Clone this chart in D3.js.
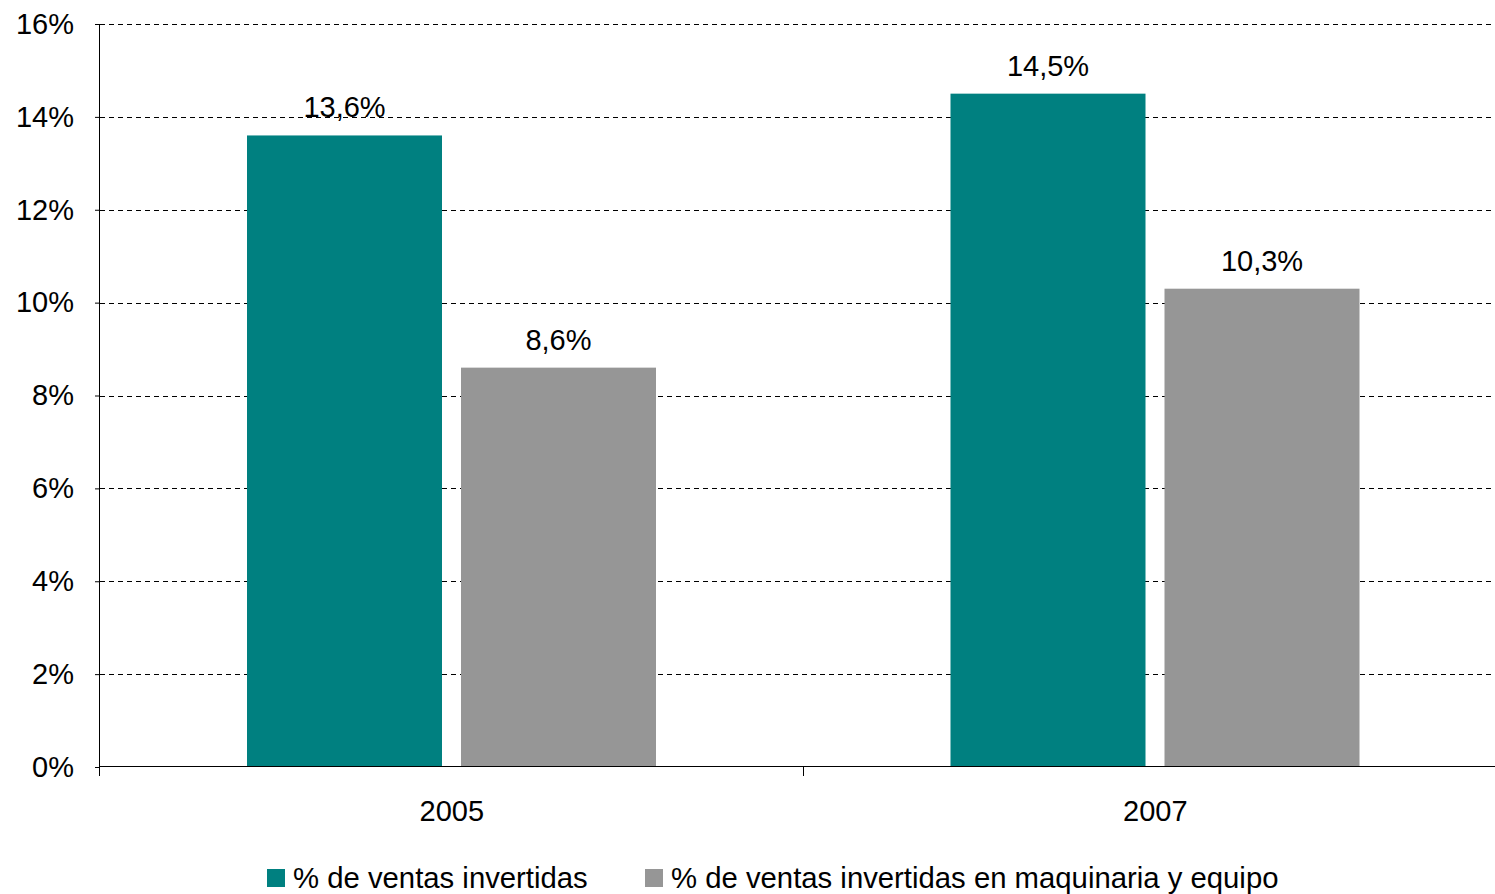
<!DOCTYPE html>
<html><head><meta charset="utf-8">
<script src="https://cdn.jsdelivr.net/npm/d3@7"></script>
<style>
html,body{margin:0;padding:0;background:#fff;}
text{font-family:"Liberation Sans",Arial,sans-serif;fill:#000;}
</style></head>
<body>
<svg id="chart" width="1495" height="894"></svg>
<script>
const categories = ["2005", "2007"];
const seriesNames = ["% de ventas invertidas", "% de ventas invertidas en maquinaria y equipo"];
const ventasInvertidas = [13.6, 14.5];
const ventasMaquinaria = [8.6, 10.3];
const yTicks = [0, 2, 4, 6, 8, 10, 12, 14, 16];
const colors = ["#008080", "#969696"];

(function () {
const seriesValues = [ventasInvertidas, ventasMaquinaria];
const svg = d3.select("#chart");
const pLeft = 100, pRight = 1507, pTop = 24, pBottom = 767;
const fs = 29;

const x0 = d3.scaleBand().domain(categories).range([pLeft, pRight]).padding(0);
const x1 = d3.scaleBand().domain(seriesNames).range([147, 556]).paddingInner(19/214).paddingOuter(0);
const y = d3.scaleLinear().domain([0, 16]).range([pBottom, pTop]);

// gridlines
svg.append("g").selectAll("line").data(yTicks.filter(d => d > 0)).join("line")
  .attr("x1", pLeft).attr("x2", 1495)
  .attr("y1", d => Math.round(y(d)) + 0.5).attr("y2", d => Math.round(y(d)) + 0.5)
  .attr("stroke", "#000").attr("stroke-width", 1).attr("stroke-dasharray", "5,4");

// bars
const groups = svg.append("g").selectAll("g").data(categories).join("g")
  .attr("transform", d => `translate(${x0(d)},0)`);
groups.selectAll("rect").data((c, i) => seriesNames.map((s, k) => ({s, k, v: seriesValues[k][i]}))).join("rect")
  .attr("x", d => x1(d.s)).attr("width", x1.bandwidth())
  .attr("y", d => y(d.v)).attr("height", d => y(0) - y(d.v))
  .attr("fill", d => colors[d.k]);

// value labels
groups.selectAll("text").data((c, i) => seriesNames.map((s, k) => ({s, k, v: seriesValues[k][i]}))).join("text")
  .attr("x", d => x1(d.s) + x1.bandwidth() / 2).attr("y", d => y(d.v) - 18)
  .attr("text-anchor", "middle").attr("font-size", fs)
  .text(d => d.v.toFixed(1).replace(".", ",") + "%");

// y axis
const yAxis = d3.axisLeft(y).tickValues(yTicks).tickSize(5).tickPadding(21)
  .tickFormat(d => d + "%");
const ya = svg.append("g").attr("transform", `translate(${pLeft},0)`).call(yAxis);
ya.select(".domain").remove();
ya.selectAll("line").attr("stroke", "#000");
ya.selectAll("text").attr("font-size", fs).attr("font-family", "Liberation Sans, Arial, sans-serif");
svg.append("line").attr("x1", pLeft - 0.5).attr("x2", pLeft - 0.5).attr("y1", pTop).attr("y2", 776).attr("stroke", "#000");

// x axis
svg.append("line").attr("x1", pLeft).attr("x2", 1495).attr("y1", pBottom - 0.5).attr("y2", pBottom - 0.5).attr("stroke", "#000");
const xa = d3.axisBottom(x0).tickSize(0).tickPadding(33);
const xg = svg.append("g").attr("transform", `translate(0,${pBottom})`).call(xa);
xg.select(".domain").remove();
xg.selectAll("text").attr("font-size", fs).attr("font-family", "Liberation Sans, Arial, sans-serif");
// category boundary tick
svg.append("g").selectAll("line").data(categories.slice(1)).join("line")
  .attr("x1", d => Math.round(x0(d)) - 0.5).attr("x2", d => Math.round(x0(d)) - 0.5)
  .attr("y1", pBottom).attr("y2", 776).attr("stroke", "#000");

// legend
const legendX = [267, 645];
const lg = svg.append("g").selectAll("g").data(seriesNames).join("g")
  .attr("transform", (d, i) => `translate(${legendX[i]},869)`);
lg.append("rect").attr("width", 18).attr("height", 18).attr("fill", (d, i) => colors[i]);
lg.append("text").attr("x", 26).attr("y", 19).attr("font-size", 29.3).text(d => d);
})();
</script>
</body></html>
